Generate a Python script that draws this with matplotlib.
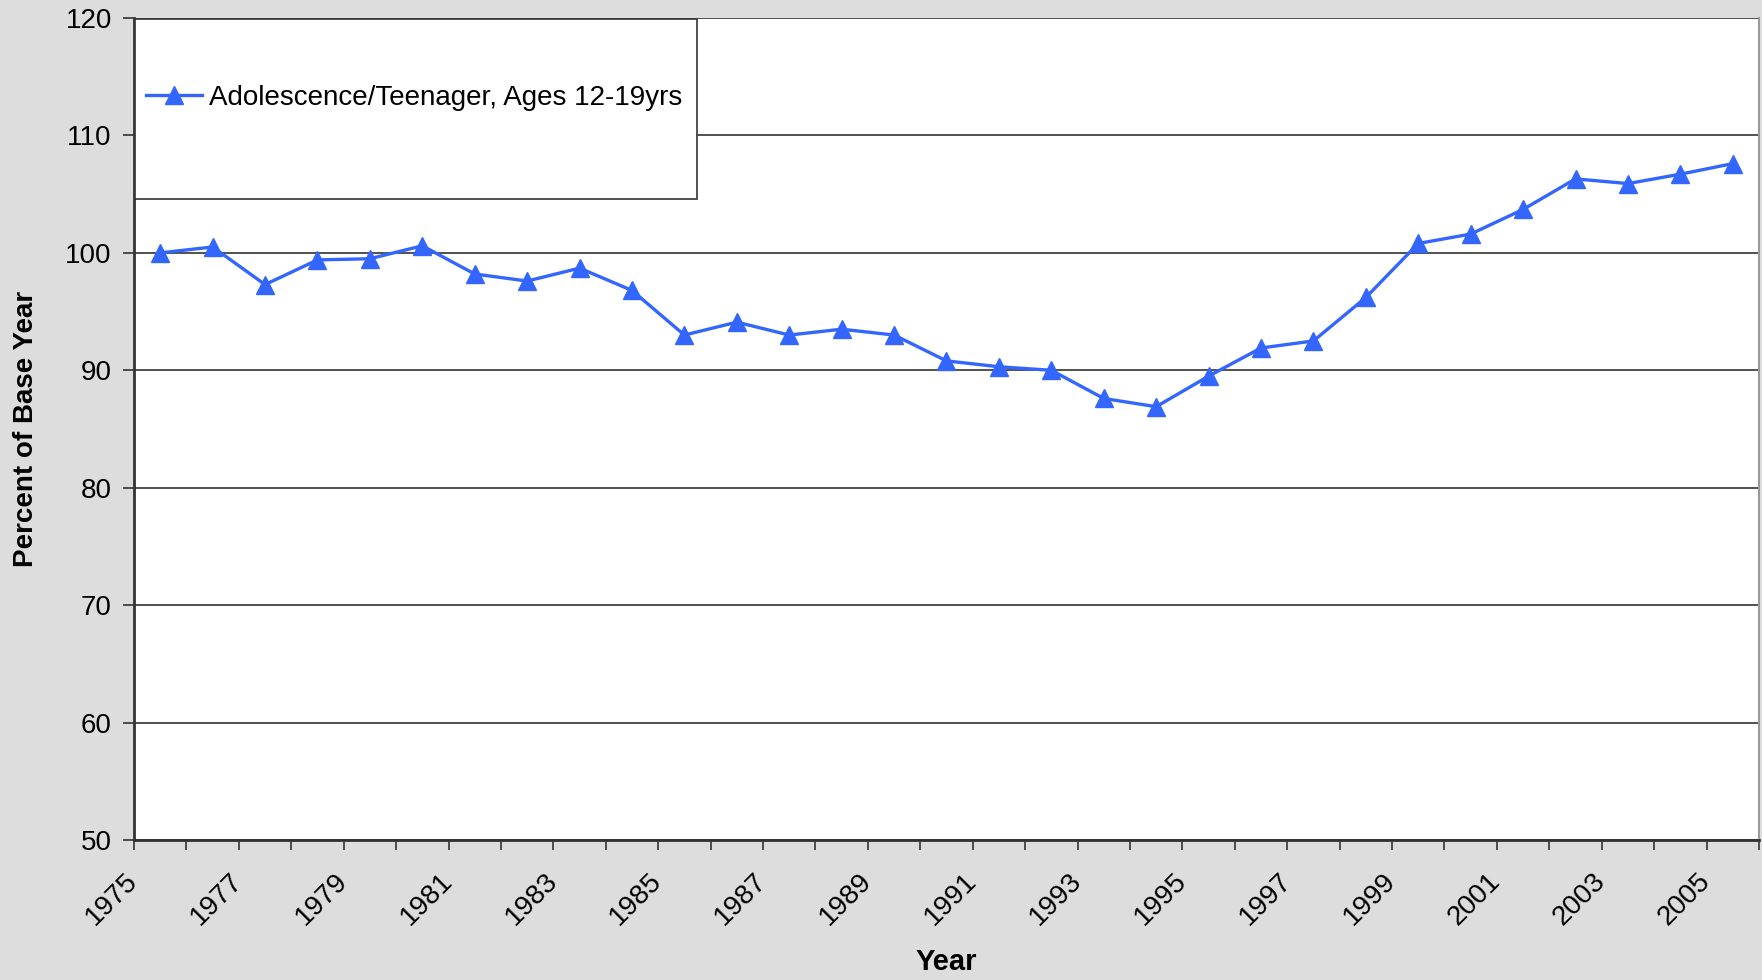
import matplotlib.pyplot as plt
import matplotlib.transforms as mtransforms
from matplotlib.patches import Rectangle
import numpy as np

plt.rcParams["font.family"] = ["Liberation Sans", "DejaVu Sans"]

# ---------------- data ----------------
years = list(range(1975, 2006))
percent_of_base = [
    100.0, 100.5, 97.3, 99.4, 99.5, 100.6, 98.2, 97.6, 98.7, 96.8,
    93.0, 94.1, 93.0, 93.5, 93.0, 90.8, 90.3, 90.0, 87.6, 86.9,
    89.5, 91.9, 92.5, 96.2, 100.8, 101.6, 103.7, 106.3, 105.9, 106.7,
    107.6,
]
series_label = "Adolescence/Teenager, Ages 12-19yrs"
y_ticks = [50, 60, 70, 80, 90, 100, 110, 120]

LINE_COLOR = "#3366FF"
BG = "#DDDDDD"

fig = plt.figure(figsize=(17.62, 9.8), dpi=100, facecolor=BG)
ax = fig.add_axes([134 / 1762, 1 - 840 / 980, 1625 / 1762, 822 / 980])
ax.set_facecolor("white")

# categories sit between the tick marks, like an Excel category axis
x = np.arange(len(years)) + 0.5
ax.plot(x, percent_of_base, color=LINE_COLOR, lw=2.4, marker="^",
        markersize=13.5, markeredgecolor=LINE_COLOR, label=series_label,
        zorder=3)

ax.set_xlim(0, len(years))
ax.set_ylim(50, 120)
ax.set_yticks(y_ticks)
ax.yaxis.grid(True, color="#333333", lw=1.2)
ax.set_axisbelow(True)

tick_pos = np.arange(len(years) + 1)
ax.set_xticks(tick_pos)
ax.set_xticklabels([str(years[i]) if i % 2 == 0 and i < len(years) else ""
                    for i in tick_pos])
for lab in ax.get_xticklabels():
    lab.set_rotation(45)
    lab.set_ha("right")
    lab.set_va("center")
    lab.set_rotation_mode("anchor")
    lab.set_transform(lab.get_transform() +
                      mtransforms.ScaledTranslation(0.18, 0, fig.dpi_scale_trans))

ax.tick_params(axis="x", direction="out", length=7, width=1.2,
               color="#333333", labelsize=20, pad=20)
ax.tick_params(axis="y", direction="out", length=8, width=1.2,
               color="#333333", labelsize=20, pad=8)

for side in ["left", "bottom"]:
    ax.spines[side].set_color("#333333")
    ax.spines[side].set_linewidth(2)
ax.spines["top"].set_visible(False)
ax.spines["right"].set_color("#999999")
ax.spines["right"].set_linewidth(1.5)

ax.set_xlabel("Year", fontsize=21, fontweight="bold")
ax.set_ylabel("Percent of Base Year", fontsize=20, fontweight="bold")
ax.xaxis.set_label_coords(0.5, -0.131)
ax.yaxis.set_label_coords(-0.0585, 0.5)

# legend box, drawn as in the original (large framed box top-left)
ax.add_patch(Rectangle((0.0006, 0.780), 0.3459, 0.2188, transform=ax.transAxes,
                       facecolor="white", edgecolor="#333333", lw=1.2, zorder=4))
leg = ax.legend(loc="center left", bbox_to_anchor=(0.0074, 0.903),
                frameon=False, fontsize=20, handlelength=2.0,
                handletextpad=0.25, borderpad=0, borderaxespad=0)
leg.set_zorder(5)

fig.savefig("out.png", dpi=100, facecolor=BG)
